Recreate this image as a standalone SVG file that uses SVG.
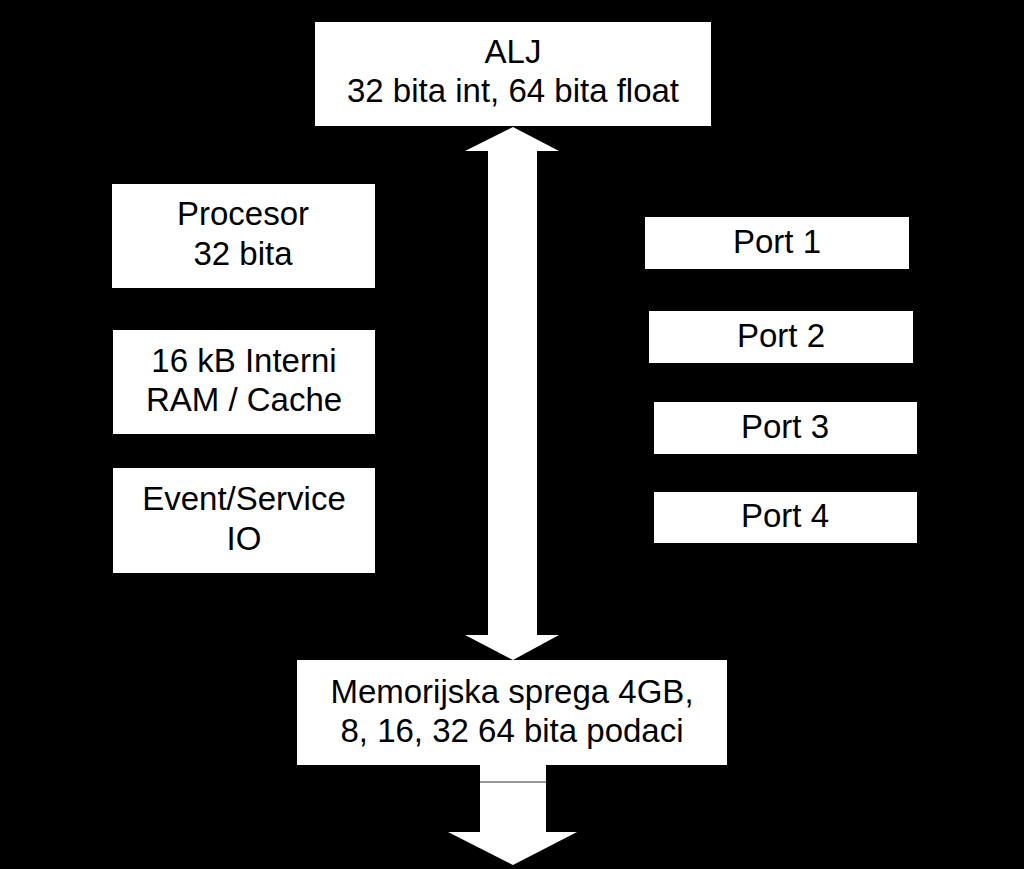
<svg xmlns="http://www.w3.org/2000/svg" width="1024" height="869" viewBox="0 0 1024 869">
<style>
.box{fill:#ffffff;stroke:none}
.t{font-family:"Liberation Sans",Arial,sans-serif;font-size:33px;fill:#000000;text-anchor:middle}
.arrow{fill:#ffffff;stroke:none}
</style>
<rect x="0" y="0" width="1024" height="869" fill="#000000"/>
<g id="connectors">
<polygon class="arrow" points="513,127 559,151 537,151 537,635 559,635 513,660 465,635 488,635 488,151 465,151"/>
<polygon class="arrow" points="480,765 546,765 546,832 577,832 513,865 448,832 480,832"/>
<line x1="480" y1="782" x2="546" y2="782" stroke="#333333" stroke-width="1"/>
</g>
<g id="alj">
<rect class="box" x="315" y="22" width="396" height="104"/>
<text class="t" x="513" y="63">ALJ</text>
<text class="t" x="513" y="102">32 bita int, 64 bita float</text>
</g>
<g id="procesor">
<rect class="box" x="112" y="184" width="263" height="104"/>
<text class="t" x="243" y="225">Procesor</text>
<text class="t" x="243" y="265">32 bita</text>
</g>
<g id="ram">
<rect class="box" x="113" y="330" width="262" height="104"/>
<text class="t" x="244" y="372">16 kB Interni</text>
<text class="t" x="244" y="411">RAM / Cache</text>
</g>
<g id="event">
<rect class="box" x="113" y="468" width="262" height="105"/>
<text class="t" x="244" y="510">Event/Service</text>
<text class="t" x="244" y="550">IO</text>
</g>
<g id="port1">
<rect class="box" x="645" y="217" width="264" height="52"/>
<text class="t" x="777" y="253">Port 1</text>
</g>
<g id="port2">
<rect class="box" x="649" y="311" width="264" height="52"/>
<text class="t" x="781" y="347">Port 2</text>
</g>
<g id="port3">
<rect class="box" x="654" y="402" width="263" height="52"/>
<text class="t" x="785" y="438">Port 3</text>
</g>
<g id="port4">
<rect class="box" x="654" y="492" width="263" height="51"/>
<text class="t" x="785" y="527">Port 4</text>
</g>
<g id="memorija">
<rect class="box" x="297" y="660" width="430" height="105"/>
<text class="t" x="512" y="703">Memorijska sprega 4GB,</text>
<text class="t" x="512" y="742">8, 16, 32 64 bita podaci</text>
</g>
</svg>
